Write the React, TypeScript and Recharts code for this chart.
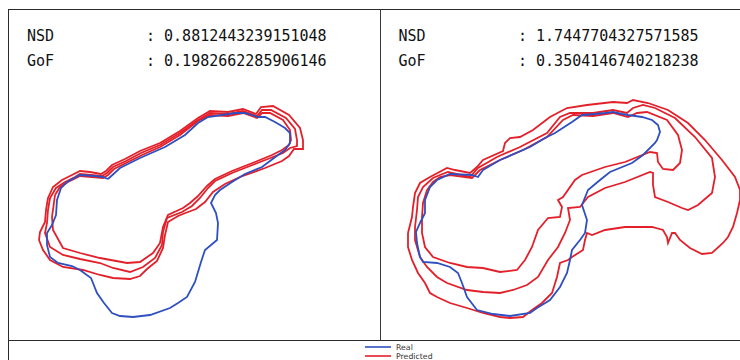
import React from 'react';
import { ScatterChart, Scatter, XAxis, YAxis } from 'recharts';

type Pt = [number, number];

// contour traces, page pixel space (x right, y down)
const leftReal: Pt[] = [
  [108, 179], [120, 168], [140, 158], [165, 147], [185, 135], [198, 123], [208, 117], [222, 115],
  [235, 113], [245, 113], [258, 117], [265, 117], [275, 122], [285, 128], [290, 133], [290, 143],
  [285, 150], [278, 155], [270, 161], [262, 167], [245, 174], [232, 182], [220, 190], [215, 195],
  [211, 203], [216, 213], [218, 223], [217, 240], [205, 250], [201, 262], [195, 282], [187, 297],
  [178, 303], [170, 308], [150, 315], [133, 317], [120, 316], [112, 313], [104, 303], [97, 293],
  [91, 278], [80, 270], [72, 266], [58, 263], [50, 257], [47, 245], [47, 233], [52, 225], [56, 215],
  [57, 200], [61, 188], [67, 182], [80, 175], [95, 176], [103, 177],
];

const leftPredInner: Pt[] = [
  [55, 195], [60, 187], [68, 182], [80, 176], [92, 177], [103, 178], [108, 175], [114, 169],
  [128, 162], [142, 155], [160, 147], [180, 135], [198, 121], [210, 115], [228, 116], [243, 113],
  [257, 118], [262, 113], [270, 113], [283, 120], [290, 130], [291, 140], [289, 145], [282, 150],
  [272, 155], [255, 162], [232, 171], [215, 179], [207, 186], [198, 196], [190, 203], [183, 208],
  [168, 215], [163, 227], [160, 243], [153, 253], [140, 262], [127, 263], [100, 258], [80, 253],
  [63, 248], [53, 230], [52, 217],
];

const leftPredMid: Pt[] = [
  [50, 198], [56, 188], [65, 182], [75, 177], [80, 174], [91, 175], [102, 176], [107, 173],
  [113, 167], [126, 161], [141, 153], [160, 145], [180, 133], [198, 120], [210, 113], [228, 114],
  [243, 111], [257, 116], [262, 110], [271, 110], [286, 118], [295, 129], [297, 140], [297, 146],
  [290, 148], [283, 153], [273, 157], [255, 164], [232, 173], [215, 181], [208, 188], [200, 198],
  [192, 206], [182, 212], [167, 218], [163, 232], [162, 245], [155, 258], [143, 267], [130, 272],
  [113, 268], [100, 263], [80, 259], [63, 255], [50, 247], [45, 233], [47, 223], [48, 210],
];

const leftPredOuter: Pt[] = [
  [48, 198], [53, 187], [62, 180], [72, 175], [80, 171], [90, 172], [101, 174], [106, 171],
  [112, 165], [125, 159], [140, 151], [160, 143], [180, 131], [198, 118], [210, 111], [228, 112],
  [243, 109], [256, 114], [261, 107], [273, 106], [289, 115], [300, 128], [303, 140], [303, 149],
  [294, 149], [289, 156], [282, 161], [265, 168], [240, 177], [225, 184], [213, 192], [205, 202],
  [196, 209], [188, 212], [178, 216], [168, 222], [165, 235], [163, 248], [157, 261], [147, 269],
  [140, 276], [130, 279], [113, 278], [100, 275], [83, 270], [63, 267], [50, 260], [43, 250],
  [39, 240], [40, 232], [45, 222], [46, 210],
];

const rightReal: Pt[] = [
  [530, 147], [500, 160], [483, 170], [478, 177], [472, 175], [450, 174], [437, 180], [430, 187],
  [425, 200], [425, 213], [420, 223], [416, 232], [417, 243], [420, 257], [423, 262], [437, 263],
  [450, 267], [458, 273], [462, 283], [467, 297], [477, 310], [493, 314], [510, 316], [530, 313],
  [537, 308], [550, 300], [560, 287], [567, 273], [570, 260], [572, 250], [580, 240], [585, 233],
  [587, 220], [582, 205], [588, 190], [600, 180], [610, 172], [632, 163], [643, 155], [655, 143],
  [657, 140], [660, 132], [658, 125], [652, 120], [642, 117], [628, 115], [622, 114], [613, 112],
  [605, 113], [595, 114], [582, 115], [572, 122], [555, 133], [545, 138],
];

const rightPredInner: Pt[] = [
  [427, 190], [433, 182], [440, 177], [450, 175], [472, 178], [480, 170], [500, 160], [523, 150],
  [547, 137], [563, 120], [573, 115], [593, 116], [613, 113], [628, 117], [637, 113], [647, 112],
  [667, 120], [678, 135], [682, 150], [680, 163], [673, 170], [663, 169], [658, 162], [657, 153],
  [650, 152], [625, 162], [605, 167], [582, 175], [575, 180], [563, 197], [558, 200], [562, 207],
  [560, 217], [548, 218], [538, 230], [532, 247], [525, 260], [517, 270], [500, 272], [483, 268],
  [467, 267], [450, 263], [433, 257], [425, 247], [422, 233], [422, 217], [423, 203],
];

const rightPredMid: Pt[] = [
  [415, 227], [417, 210], [418, 197], [423, 187], [433, 178], [440, 175], [448, 172], [470, 177],
  [478, 168], [497, 157], [520, 147], [547, 133], [560, 117], [570, 113], [593, 113], [613, 110],
  [627, 113], [633, 108], [643, 105], [655, 108], [675, 118], [695, 137], [712, 158], [715, 177],
  [712, 193], [698, 205], [688, 210], [682, 208], [668, 202], [655, 197], [653, 185], [653, 173],
  [650, 172], [625, 182], [605, 188], [588, 197], [580, 207], [568, 208], [570, 220], [565, 233],
  [558, 247], [548, 260], [538, 277], [527, 285], [513, 290], [500, 293], [483, 292], [467, 290],
  [447, 283], [437, 277], [427, 267], [420, 257], [415, 240],
];

const rightPredOuter: Pt[] = [
  [408, 233], [412, 217], [413, 207], [415, 193], [420, 183], [430, 177], [447, 168], [455, 170],
  [470, 173], [477, 167], [483, 160], [503, 151], [505, 143], [510, 138], [520, 137], [533, 130],
  [550, 117], [567, 108], [587, 105], [613, 102], [627, 103], [633, 100], [648, 103], [668, 110],
  [688, 123], [705, 140], [722, 160], [735, 177], [740, 190], [740, 200], [737, 213], [733, 227],
  [728, 237], [723, 243], [712, 253], [702, 254], [690, 248], [680, 240], [675, 233], [672, 233],
  [668, 243], [667, 237], [663, 230], [652, 227], [625, 227], [605, 230], [592, 235], [587, 233],
  [585, 240], [583, 250], [572, 257], [568, 260], [560, 263], [557, 277], [552, 293], [542, 303],
  [532, 310], [523, 317], [510, 318], [500, 317], [483, 313], [467, 308], [450, 303], [437, 297],
  [430, 293], [425, 283], [418, 273], [412, 260], [408, 247],
];

const metricNames = ['NSD', 'GoF'];
const leftScores = ['0.8812443239151048', '0.1982662285906146'];
const rightScores = ['1.7447704327571585', '0.3504146740218238'];
const seriesNames = ['Real', 'Predicted'];

const BLUE = '#2f4fc0';
const RED = '#e3202a';
const LINE_W = 1.8;

const closed = (pts: Pt[]) => [...pts, pts[0]].map(([x, y]) => ({ x, y }));
const NoDot = () => <g />;

type PanelProps = {
  left: number;
  width: number;
  real: Pt[];
  preds: Pt[][];
};

const TOP = 9;
const BOTTOM = 340;

function Panel({ left, width, real, preds }: PanelProps) {
  return (
    <div style={{ position: 'absolute', left, top: TOP, width, height: BOTTOM - TOP }}>
      <ScatterChart width={width} height={BOTTOM - TOP} margin={{ top: 0, right: 0, bottom: 0, left: 0 }}>
        <XAxis type="number" dataKey="x" domain={[left, left + width]} hide allowDataOverflow />
        <YAxis type="number" dataKey="y" domain={[TOP, BOTTOM]} reversed hide allowDataOverflow />
        {preds.map((p, i) => (
          <Scatter
            key={`pred-${i}`}
            data={closed(p)}
            fill={RED}
            line={{ stroke: RED, strokeWidth: LINE_W }}
            shape={NoDot}
            isAnimationActive={false}
          />
        ))}
        <Scatter
          data={closed(real)}
          fill={BLUE}
          line={{ stroke: BLUE, strokeWidth: LINE_W }}
          shape={NoDot}
          isAnimationActive={false}
        />
      </ScatterChart>
    </div>
  );
}

export default function App() {
  const mono = { fontFamily: 'DejaVu Sans Mono', fontSize: 15, fill: '#111' };
  const frame = '#2b2b2b';
  return (
    <div style={{ position: 'fixed', left: 0, top: 0, width: 740, height: 360, overflow: 'hidden', background: '#fff' }}>
      <Panel left={8} width={372} real={leftReal} preds={[leftPredOuter, leftPredMid, leftPredInner]} />
      <Panel left={380} width={360} real={rightReal} preds={[rightPredOuter, rightPredMid, rightPredInner]} />

      {/* frame lines */}
      <div style={{ position: 'absolute', left: 8, top: TOP, width: 732, height: 1, background: frame }} />
      <div style={{ position: 'absolute', left: 8, top: TOP, width: 1, height: 360 - TOP, background: frame }} />
      <div style={{ position: 'absolute', left: 8, top: BOTTOM, width: 732, height: 1, background: frame }} />
      <div style={{ position: 'absolute', left: 380, top: TOP, width: 1, height: BOTTOM - TOP, background: '#3a3a3a' }} />

      <svg width={740} height={360} style={{ position: 'absolute', left: 0, top: 0, pointerEvents: 'none' }}>
        {metricNames.map((m, i) => (
          <g key={m}>
            <text x={27} y={41 + i * 25} {...mono}>{m}</text>
            <text x={146} y={41 + i * 25} {...mono}>{`: ${leftScores[i]}`}</text>
            <text x={398.5} y={41 + i * 25} {...mono}>{m}</text>
            <text x={518} y={41 + i * 25} {...mono}>{`: ${rightScores[i]}`}</text>
          </g>
        ))}
        {seriesNames.map((s, i) => (
          <g key={s}>
            <line x1={365} x2={391} y1={347 + i * 9} y2={347 + i * 9} stroke={i === 0 ? BLUE : RED} strokeWidth={1.6} />
            <text x={396} y={349.5 + i * 9} fontFamily="DejaVu Sans" fontSize={7.8} fill="#333">{s}</text>
          </g>
        ))}
      </svg>
    </div>
  );
}
